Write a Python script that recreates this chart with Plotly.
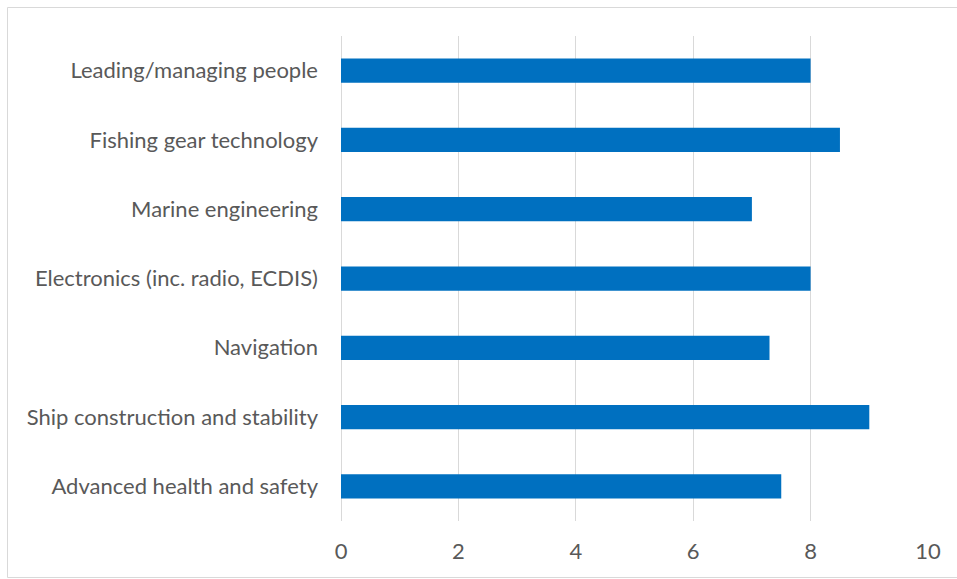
import plotly.graph_objects as go

# Skill areas (bottom to top as drawn on the category axis)
categories = [
    "Advanced health and safety",
    "Ship construction and stability",
    "Navigation",
    "Electronics (inc. radio, ECDIS)",
    "Marine engineering",
    "Fishing gear technology",
    "Leading/managing people",
]
scores = [7.5, 9, 7.3, 8, 7, 8.5, 8]
x_ticks = [0, 2, 4, 6, 8, 10]

W, H = 957, 579
L, R, T, B = 341, 29, 36, 58
pw, ph = W - L - R, H - T - B

fig = go.Figure(
    go.Bar(
        x=scores,
        y=categories,
        orientation="h",
        marker=dict(color="#0070C0", line=dict(width=0)),
        hoverinfo="x+y",
    )
)

def px_to_paper_x(px):
    return (px - L) / pw

def px_to_paper_y(py):
    return (H - B - py) / ph

# light outer chart border
fig.add_shape(
    type="rect", xref="paper", yref="paper",
    x0=px_to_paper_x(7.5), x1=px_to_paper_x(970),
    y0=px_to_paper_y(577.5), y1=px_to_paper_y(7.5),
    line=dict(color="#d9d9d9", width=1), fillcolor="rgba(0,0,0,0)",
    layer="below",
)

font_family = "Lato, Open Sans, sans-serif"

fig.update_layout(
    width=W, height=H,
    margin=dict(l=L, r=R, t=T, b=B, pad=0),
    paper_bgcolor="white", plot_bgcolor="white",
    bargap=0.65,
    showlegend=False,
    font=dict(family=font_family, size=22, color="#595959"),
    xaxis=dict(
        range=[0, 10], tickvals=x_ticks, ticktext=[str(v) for v in x_ticks],
        showgrid=True, gridcolor="#d9d9d9", gridwidth=1,
        zeroline=True, zerolinecolor="#d9d9d9", zerolinewidth=1,
        showline=False, ticks="", ticklabelstandoff=15,
        tickfont=dict(size=22, color="#595959"),
        fixedrange=True,
    ),
    yaxis=dict(
        categoryorder="array", categoryarray=categories,
        showgrid=False, zeroline=False, showline=False, ticks="",
        ticklabelstandoff=22,
        tickfont=dict(size=22, color="#595959"),
        fixedrange=True,
    ),
)

fig.write_html("out.html")
